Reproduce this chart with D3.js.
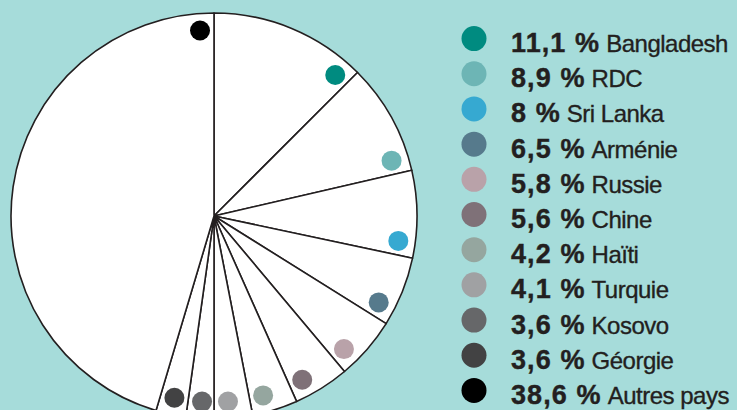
<!DOCTYPE html>
<html>
<head>
<meta charset="utf-8">
<script src="https://cdn.jsdelivr.net/npm/d3@7"></script>
<style>
  body { margin: 0; background: #a6dcda; }
  svg { display: block; }
</style>
</head>
<body>
<div id="chart"></div>
<script>
// countries and their share (legend values)
var countries = ["Bangladesh", "RDC", "Sri Lanka", "Arménie", "Russie", "Chine", "Haïti", "Turquie", "Kosovo", "Géorgie", "Autres pays"]
var shareLabels = ["11,1", "8,9", "8", "6,5", "5,8", "5,6", "4,2", "4,1", "3,6", "3,6", "38,6"]
var shares = [11.1, 8.9, 8, 6.5, 5.8, 5.6, 4.2, 4.1, 3.6, 3.6, 38.6]
// the slices in the original drawing are not to scale, these are the arcs as drawn (degrees)
var drawnArcs = [45, 32, 25, 20, 18, 16, 13, 11, 8, 8.6, 163.4]
var colors = ["#008b80", "#6db5b5", "#36a9d1", "#567a8c", "#b9a2a9", "#7f7178", "#95a69f", "#a0a1a3", "#666769", "#424243", "#000000"]

var width = 737
var height = 410

var svg = d3.select("#chart")
  .append("svg")
  .attr("width", width)
  .attr("height", height)

svg.append("rect")
  .attr("width", width)
  .attr("height", height)
  .attr("fill", "#a6dcda")

//Build the pie data
var data = []
for (i = 0; i < countries.length; i++) {
  data.push({name: countries[i], label: shareLabels[i], value: shares[i], arc: drawnArcs[i], color: colors[i]})
}

var cx = 214, cy = 216, radius = 203

var pie = d3.pie()
  .sort(null)
  .value(function(d) { return d.arc })

var arc = d3.arc()
  .innerRadius(0)
  .outerRadius(radius)

var pieGroup = svg.append("g")
  .attr("transform", "translate(" + cx + "," + cy + ")")

var slices = pie(data)

pieGroup.selectAll(".slice")
  .data(slices)
  .enter()
  .append("path")
  .attr("class", "slice")
  .attr("d", arc)
  .attr("fill", "#ffffff")
  .attr("stroke", "#231f20")
  .attr("stroke-width", 1.6)
  .attr("stroke-linejoin", "round")

//Dots sit near the end edge of every slice
var dotRadius = 186
var dotOffset = 14 / dotRadius
pieGroup.selectAll(".dot")
  .data(slices)
  .enter()
  .append("circle")
  .attr("class", "dot")
  .attr("r", 10)
  .attr("fill", function(d) { return d.data.color })
  .attr("cx", function(d) { return dotRadius * Math.sin(d.endAngle - dotOffset) })
  .attr("cy", function(d) { return -dotRadius * Math.cos(d.endAngle - dotOffset) })

//Legend
var legendY = d3.scaleBand()
  .domain(countries)
  .range([21, 408])

var legend = svg.append("g")

var rows = legend.selectAll(".row")
  .data(data)
  .enter()
  .append("g")
  .attr("class", "row")
  .attr("transform", function(d) { return "translate(0," + (legendY(d.name) + legendY.bandwidth() / 2) + ")" })

rows.append("circle")
  .attr("cx", 474)
  .attr("cy", 0)
  .attr("r", 12.5)
  .attr("fill", function(d) { return d.color })

var txt = rows.append("text")
  .attr("x", 511)
  .attr("y", 13.5)
  .attr("fill", "#231f20")
  .style("font-family", "'Liberation Sans', Arial, sans-serif")

txt.append("tspan")
  .style("font-weight", "bold")
  .style("font-size", "27px")
  .attr("letter-spacing", "1.1")
  .attr("stroke", "#231f20")
  .attr("stroke-width", 0.4)
  .text(function(d) { return d.label + " %" })

txt.append("tspan")
  .style("font-size", "24px")
  .attr("letter-spacing", "-0.5")
  .attr("stroke", "#231f20")
  .attr("stroke-width", 0.35)
  .attr("dx", 6)
  .text(function(d) { return d.name })
</script>
</body>
</html>
